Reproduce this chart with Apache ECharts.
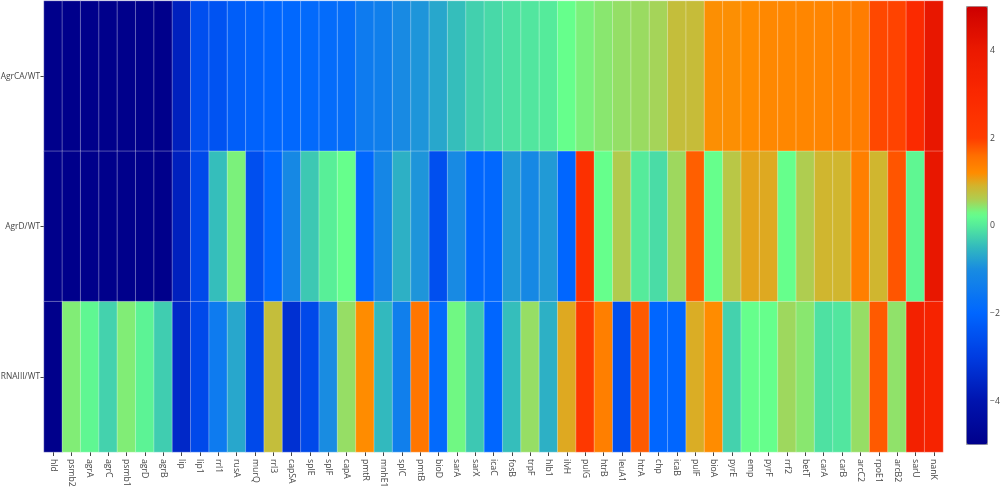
<!DOCTYPE html>
<html>
<head>
<meta charset="utf-8">
<script src="https://cdn.jsdelivr.net/npm/echarts@6/dist/echarts.min.js"></script>
<style>
  html, body { margin: 0; padding: 0; background: #fff; }
  #chart { width: 1000px; height: 488px; }
</style>
</head>
<body>
<div id="chart"></div>
<script>
// genes along x, comparisons along y (top to bottom)
var genes = ['hld', 'psmb2', 'agrA', 'agrC', 'psmb1', 'agrD', 'agrB', 'lip', 'lip1', 'rrl1',
    'rusA', 'murQ', 'rrl3', 'capSA', 'splE', 'splF', 'capA', 'pmtR', 'mnhE1', 'splC',
    'pmtB', 'bioD', 'sarA', 'sarX', 'icaC', 'fosB', 'trpF', 'hlb1', 'ilvH', 'pulG',
    'htrB', 'leuA1', 'htrA', 'chp', 'icaB', 'pulF', 'bioA', 'pyrE', 'emp', 'pyrF',
    'rrf2', 'betT', 'carA', 'carB', 'arcC2', 'rpoE1', 'arcB2', 'sarU', 'nanK'];
var rows = ['AgrCA/WT', 'AgrD/WT', 'RNAIII/WT'];

var valsAgrCA = [-5, -5, -5, -5, -5, -5, -5, -3.7, -2.55, -2.45,
    -2.2, -2.1, -2.0, -1.95, -1.9, -1.85, -1.8, -1.45, -1.35, -1.05,
    -0.9, -0.7, -0.45, -0.27, -0.18, -0.1, -0.05, 0, 0.25, 0.35,
    0.42, 0.47, 0.5, 0.55, 0.78, 0.8, 1.18, 1.18, 1.2, 1.25,
    1.27, 1.28, 1.3, 1.35, 1.4, 1.9, 1.94, 2.9, 4.1];
var valsAgrD = [-5, -5, -5, -5, -5, -5, -5, -3.7, -2.7, -0.45,
    0.35, -2.55, -2.0, -1.1, -0.35, 0.05, 0.25, -1.95, -1.15, -0.6,
    -0.9, -2.55, -1.05, -2.0, -1.95, -0.85, -1.1, -0.85, -2.0, 2.6,
    0.25, 0.62, 0.0, -0.15, 0.52, 1.72, 0.25, 0.68, 1.02, 0.98,
    0.25, 0.6, 0.88, 0.88, 1.37, 0.88, 1.8, 0.15, 4.1];
var valsRNAIII = [-5, 0.38, 0.15, -0.25, 0.38, 0.1, -0.3, -3.5, -2.7, -1.45,
    -0.7, -2.7, 0.78, -3.3, -2.7, -1.0, 0.48, 1.2, -0.5, -1.35,
    1.5, -1.9, 0.3, -0.35, -2.0, -0.45, 0.48, -0.6, 0.98, 2.2,
    1.37, -2.55, 1.76, -2.0, -2.0, 0.95, 1.2, -0.25, 0.25, 0.25,
    0.52, 0.42, -0.1, -0.05, 0.48, 1.76, 0.45, 3.5, 3.3];

var zMin = -5, zMax = 5;

// colour scale control points
var stopVals = [-5, -4, -3, -2, -1, -0.5, 0, 0.25, 0.6, 0.9, 1.2, 1.6, 2, 3, 4, 5];
var stopCols = [[0,0,139],[0,20,175],[0,60,225],[0,102,255],[25,140,225],[50,185,190],
    [85,235,155],[102,255,140],[175,205,80],[210,180,45],[255,140,0],[255,110,0],
    [255,60,0],[250,40,0],[235,25,0],[205,0,0]];

function colorAt(v) {
    for (var i = 0; i < stopVals.length - 1; i++) {
        if (v <= stopVals[i + 1]) {
            var t = (v - stopVals[i]) / (stopVals[i + 1] - stopVals[i]);
            var a = stopCols[i], b = stopCols[i + 1];
            return 'rgb(' + Math.round(a[0] + (b[0] - a[0]) * t) + ',' +
                Math.round(a[1] + (b[1] - a[1]) * t) + ',' +
                Math.round(a[2] + (b[2] - a[2]) * t) + ')';
        }
    }
    var l = stopCols[stopCols.length - 1];
    return 'rgb(' + l.join(',') + ')';
}
var scale = [];
for (var k = 0; k <= 200; k++) scale.push(colorAt(zMin + (zMax - zMin) * k / 200));

var allVals = [valsAgrCA, valsAgrD, valsRNAIII];
var data = [];
for (var r = 0; r < rows.length; r++) {
    for (var c = 0; c < genes.length; c++) {
        data.push([c, r, allVals[r][c]]);
    }
}

var font = '"Open Sans", "Noto Sans", sans-serif';
var fs = 8.7;
var chart = echarts.init(document.getElementById('chart'));
chart.setOption({
    animation: false,
    grid: [
        { left: 44, right: 57, top: 1, bottom: 36, outerBoundsMode: 'none', containLabel: false },
        // axis that carries the colour bar labels
        { left: 987, width: 1, top: 50.8, height: 350.4, outerBoundsMode: 'none', containLabel: false }
    ],
    xAxis: [{
        type: 'category',
        gridIndex: 0,
        data: genes,
        axisLine: { show: false },
        axisTick: { show: true, alignWithLabel: true, length: 4, lineStyle: { color: '#444' } },
        axisLabel: { rotate: -90, fontSize: fs, color: '#444', fontFamily: font, interval: 0, margin: 7 },
        splitLine: { show: false }
    }, {
        type: 'value', gridIndex: 1, show: false
    }],
    yAxis: [{
        type: 'category',
        gridIndex: 0,
        data: rows,
        inverse: true,
        axisLine: { show: false },
        axisTick: { show: true, alignWithLabel: true, length: 3.5, lineStyle: { color: '#444' } },
        axisLabel: { fontSize: 8.4, color: '#444', fontFamily: font, margin: 4 },
        splitLine: { show: false }
    }, {
        type: 'value',
        gridIndex: 1,
        min: -4,
        max: 4,
        interval: 2,
        position: 'right',
        axisLine: { show: false },
        axisTick: { show: false },
        splitLine: { show: false },
        axisLabel: {
            fontSize: fs, color: '#444', fontFamily: font, margin: 2,
            formatter: function (v) { return v < 0 ? '\u2212' + Math.abs(v) : String(v); }
        }
    }],
    visualMap: {
        type: 'continuous',
        min: zMin,
        max: zMax,
        seriesIndex: 0,
        calculable: false,
        orient: 'vertical',
        left: 966,
        top: 6,
        itemWidth: 21,
        itemHeight: 438,
        padding: 0,
        borderWidth: 1,
        borderColor: '#999',
        text: null,
        showLabel: false,
        hoverLink: false,
        inRange: { color: scale }
    },
    series: [{
        type: 'heatmap',
        xAxisIndex: 0,
        yAxisIndex: 0,
        data: data,
        itemStyle: { borderColor: 'rgba(255,255,255,0.4)', borderWidth: 0.8 },
        emphasis: { disabled: true }
    }]
});
</script>
</body>
</html>
